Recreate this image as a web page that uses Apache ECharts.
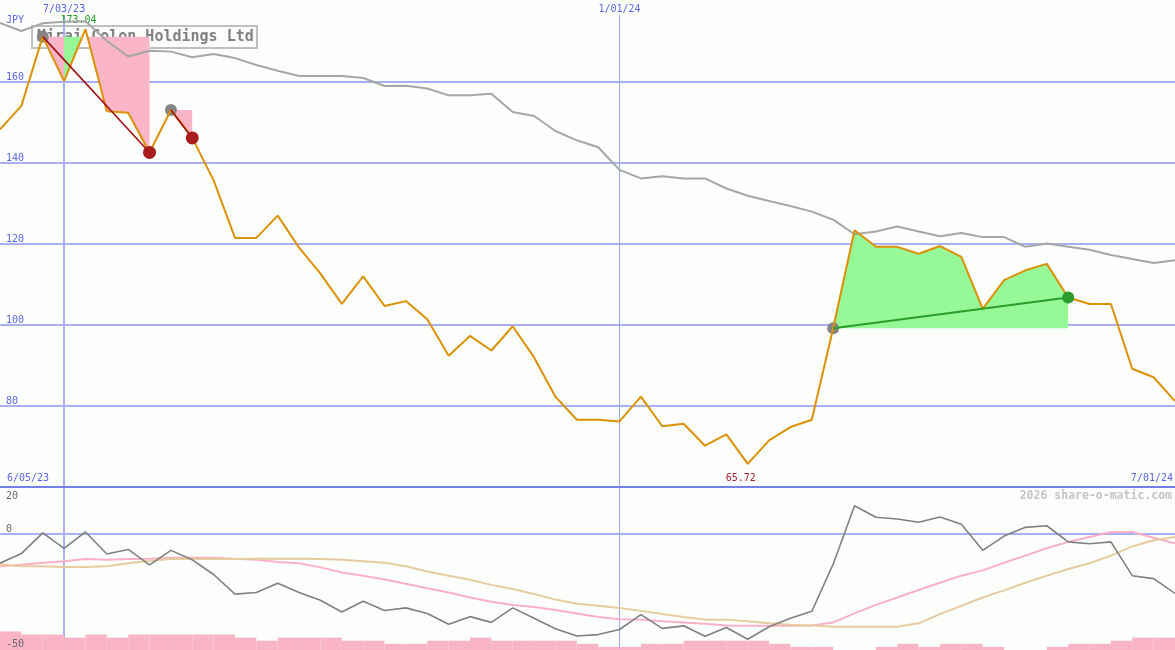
<!DOCTYPE html>
<html><head><meta charset="utf-8">
<script src="https://cdn.jsdelivr.net/npm/echarts@6/dist/echarts.min.js"></script>
<style>html,body{margin:0;padding:0;background:#fcfffc;} #c{width:1175px;height:650px;}</style>
</head><body><div id="c"></div>
<script>
const dates = ['6/12/23','6/19/23','6/26/23','7/03/23','7/10/23','7/17/23','7/24/23','7/31/23','8/07/23','8/14/23','8/21/23','8/28/23','9/04/23','9/11/23','9/18/23','9/25/23','10/02/23','10/09/23','10/16/23','10/23/23','10/30/23','11/06/23','11/13/23','11/20/23','11/27/23','12/04/23','12/11/23','12/18/23','12/25/23','1/01/24','1/08/24','1/15/24','1/22/24','1/29/24','2/05/24','2/12/24','2/19/24','2/26/24','3/04/24','3/11/24','3/18/24','3/25/24','4/01/24','4/08/24','4/15/24','4/22/24','4/29/24','5/06/24','5/13/24','5/20/24','5/27/24','6/03/24','6/10/24','6/17/24','6/24/24','7/01/24'];
const price = [148.3,154.1,171.2,160.2,173.04,152.8,152.4,142.6,153.1,146.2,135.7,121.5,121.5,127.0,119.1,112.7,105.2,112.0,104.7,105.9,101.4,92.4,97.3,93.7,99.7,92.0,82.3,76.6,76.6,76.2,82.3,75.0,75.6,70.2,73.0,65.72,71.5,74.8,76.6,99.2,123.4,119.3,119.3,117.6,119.5,116.8,104.0,111.1,113.5,115.1,106.8,105.2,105.2,89.2,87.1,81.2];
const priceMA = [174.6,172.6,174.5,174.9,175.0,170.2,166.3,167.7,167.5,166.1,166.9,165.9,164.2,162.8,161.5,161.5,161.5,161.0,159.0,159.1,158.4,156.7,156.7,157.1,152.6,151.6,147.9,145.6,143.9,138.3,136.2,136.7,136.2,136.2,133.7,131.9,130.6,129.4,128.0,126.0,122.4,123.1,124.3,123.1,121.9,122.7,121.7,121.7,119.3,120.1,119.3,118.6,117.3,116.3,115.3,116.0];
const momentum = [-12.7,-8.5,0.5,-6.2,0.9,-8.7,-6.7,-13.4,-7.1,-11.2,-17.6,-26.1,-25.4,-21.4,-25.4,-28.8,-33.9,-29.2,-33.2,-32.1,-34.5,-39.2,-35.9,-38.4,-32.1,-36.6,-41.2,-44.3,-43.7,-41.5,-35.0,-41.0,-39.9,-44.4,-40.6,-45.7,-40.3,-36.6,-33.6,-13.1,12.3,7.3,6.5,5.1,7.4,4.2,-7.1,-0.9,2.9,3.6,-3.4,-4.2,-3.4,-18.1,-19.4,-25.8];
const momentumFast = [-14.0,-13.4,-12.5,-11.8,-10.9,-11.2,-10.9,-10.7,-10.3,-10.3,-10.3,-10.7,-11.2,-12.2,-12.7,-14.5,-16.7,-18.1,-19.8,-21.6,-23.6,-25.4,-27.6,-29.4,-30.8,-31.7,-33.0,-34.5,-36.1,-37.0,-37.2,-37.9,-38.4,-39.0,-39.7,-39.9,-39.9,-39.9,-39.7,-38.4,-34.5,-30.8,-27.6,-24.3,-21.2,-18.1,-15.8,-12.5,-9.4,-6.2,-3.4,-1.3,0.9,0.9,-1.6,-4.0];
const momentumSlow = [-13.1,-14.0,-14.0,-14.3,-14.3,-14.0,-12.7,-11.6,-10.9,-10.9,-10.9,-10.9,-10.7,-10.7,-10.7,-10.9,-11.2,-11.8,-12.5,-14.0,-16.3,-18.1,-19.9,-22.1,-23.9,-26.1,-28.5,-30.3,-31.2,-32.1,-33.4,-34.8,-36.1,-37.2,-37.2,-37.9,-38.8,-39.4,-39.7,-40.3,-40.3,-40.3,-40.3,-38.8,-34.8,-31.2,-27.6,-24.5,-21.2,-18.1,-15.2,-12.7,-9.4,-5.4,-2.7,-1.3];
const volumeLevels = [6,5,5,4,5,4,5,5,5,5,5,4,3,4,4,4,3,3,2,2,3,3,4,3,3,3,3,2,1,1,2,2,3,3,3,3,2,1,1,0,0,1,2,1,2,2,1,0,0,1,2,2,3,4,4];
const lowerTicks = [20, 0, -50];
const topDateLabels = ['7/03/23', '1/01/24'];
const rangeLabels = ['6/05/23', '7/01/24'];
const trades = [[2,7],[8,9],[39,50]];
const fills = [[2,3,2,'loss'],[3,4,2,'gain'],[4,7,2,'loss'],[8,9,8,'loss'],[39,50,39,'gain']];
const titleText = 'Mirai Colon Holdings Ltd';
const currency = 'JPY';
const copyright = '2026 share-o-matic.com';

const FONT = 'DejaVu Sans Mono';
const BLUE = '#5a64e6';
const GRID = '#a8b0f2';
const PINK = '#fbb5c8';
const GREEN = '#96f896';
const ZL = 1;

const chart = echarts.init(document.getElementById('c'), null, {renderer: 'canvas'});

const barCats = dates.slice(0, volumeLevels.length);
const tradeOf = e => trades.find(t => t[0] === e);

const series = [];
series.push({
  type: 'line', xAxisIndex: 0, yAxisIndex: 0, data: price, zlevel: ZL, z: 1, silent: true,
  symbol: 'none', lineStyle: {opacity: 0},
  markLine: {
    silent: true, symbol: ['none', 'none'], label: {show: false},
    data: topDateLabels.map((d, k) => [
      {coord: [dates.indexOf(d), 176.5], lineStyle: {color: k === 0 ? GRID : '#9aa4f4', width: k === 0 ? 2 : 1, type: 'solid'}},
      {coord: [dates.indexOf(d), 60]}
    ])
  }
});
series.push({
  type: 'line', xAxisIndex: 1, yAxisIndex: 1, data: momentum, zlevel: ZL, z: 1, silent: true,
  symbol: 'none', lineStyle: {opacity: 0},
  markLine: {
    silent: true, symbol: ['none', 'none'], label: {show: false},
    data: [
      {yAxis: 0, lineStyle: {color: GRID, width: 2, type: 'solid'}}
    ].concat(topDateLabels.map((d, k) => [
      {coord: [dates.indexOf(d), 20], lineStyle: {color: k === 0 ? GRID : '#9aa4f4', width: k === 0 ? 2 : 1, type: 'solid'}},
      {coord: [dates.indexOf(d), -50.4]}
    ]))
  }
});
series.push({
  type: 'custom', xAxisIndex: 0, yAxisIndex: 0, zlevel: ZL, z: 2, silent: true,
  data: fills.map(f => [f[0], f[1], f[2]]),
  encode: {x: 0, y: 2},
  renderItem: function (params, api) {
    const f = fills[params.dataIndex];
    const from = f[0], to = f[1], entry = f[2];
    const level = price[entry];
    const exit = tradeOf(entry)[1];
    const below = price[exit] < level;
    const clip = v => below ? Math.min(v, level) : Math.max(v, level);
    const pts = [api.coord([from, level])];
    for (let i = from; i <= to; i++) {
      pts.push(api.coord([i, clip(price[i])]));
      if (i < to) {
        const a = price[i], b = price[i + 1];
        if ((a - level) * (b - level) < 0) {
          const t = (level - a) / (b - a);
          const p0 = api.coord([i, level]), p1 = api.coord([i + 1, level]);
          pts.push([p0[0] + t * (p1[0] - p0[0]), p0[1]]);
        }
      }
    }
    pts.push(api.coord([to, level]));
    return {type: 'polygon', shape: {points: pts}, style: {fill: f[3] === 'gain' ? GREEN : PINK}};
  }
});
series.push({
  type: 'line', xAxisIndex: 0, yAxisIndex: 0, data: priceMA, zlevel: ZL, z: 3, silent: true,
  symbol: 'none', lineStyle: {color: '#a6a6a6', width: 2}
});
series.push({
  type: 'scatter', xAxisIndex: 0, yAxisIndex: 0, zlevel: ZL, z: 4, silent: true,
  data: trades.map(t => [t[0], price[t[0]]]),
  symbolSize: 12, itemStyle: {color: '#848484', opacity: 1}
});
series.push({
  type: 'line', xAxisIndex: 0, yAxisIndex: 0, data: price, zlevel: ZL, z: 5, silent: true,
  symbol: 'none', lineStyle: {color: '#dc9004', width: 2},
  markPoint: {
    symbol: 'circle', symbolSize: 1, itemStyle: {color: 'rgba(0,0,0,0)'}, silent: true,
    label: {show: true, position: 'inside', fontFamily: FONT, fontSize: 10, formatter: p => Number(p.value).toFixed(2)},
    data: [
      {type: 'max', label: {offset: [-7, -9], color: '#22a022'}},
      {type: 'min', label: {offset: [-7, 15], color: '#a42030'}}
    ]
  }
});
trades.forEach(t => {
  const gain = price[t[1]] > price[t[0]];
  series.push({
    type: 'line', xAxisIndex: 0, yAxisIndex: 0, zlevel: ZL, z: 6, silent: true, symbol: 'none',
    data: [[t[0], price[t[0]]], [t[1], price[t[1]]]],
    lineStyle: {color: gain ? '#2a9e2a' : '#a01010', width: gain ? 2 : 1.6}
  });
});
series.push({
  type: 'scatter', xAxisIndex: 0, yAxisIndex: 0, zlevel: ZL, z: 7, silent: true,
  data: trades.map(t => ({
    value: [t[1], price[t[1]]],
    symbolSize: price[t[1]] > price[t[0]] ? 12 : 13,
    itemStyle: {color: price[t[1]] > price[t[0]] ? '#2c9c2c' : '#a81c1c', opacity: 1}
  }))
});
series.push({
  type: 'bar', xAxisIndex: 2, yAxisIndex: 2, data: volumeLevels, zlevel: ZL, z: 3, silent: true,
  barCategoryGap: '0%', barGap: '0%', itemStyle: {color: '#f9b4c8'}
});
series.push({
  type: 'line', xAxisIndex: 1, yAxisIndex: 1, data: momentumFast, zlevel: ZL, z: 4, silent: true,
  symbol: 'none', lineStyle: {color: '#fbb0c8', width: 2}
});
series.push({
  type: 'line', xAxisIndex: 1, yAxisIndex: 1, data: momentumSlow, zlevel: ZL, z: 5, silent: true,
  symbol: 'none', lineStyle: {color: '#e6cc9e', width: 2}
});
series.push({
  type: 'line', xAxisIndex: 1, yAxisIndex: 1, data: momentum, zlevel: ZL, z: 6, silent: true,
  symbol: 'none', lineStyle: {color: '#808080', width: 1.6}
});

const option = {
  animation: false,
  backgroundColor: '#fcfffc',
  title: {
    text: titleText, left: 32, top: 26, zlevel: 0, z: 1, padding: [3, 4, 2, 5],
    borderColor: '#c0c0c0', borderWidth: 2,
    textStyle: {fontFamily: FONT, fontWeight: 'bold', fontSize: 15, color: '#808080', lineHeight: 17}
  },
  grid: [
    {left: 0, right: 0, top: 1, height: 486},
    {left: 0, right: 0, top: 488, height: 162}
  ],
  xAxis: [
    {gridIndex: 0, type: 'category', data: dates, boundaryGap: false,
     axisLine: {show: true, lineStyle: {color: '#7080e8', width: 2}}, axisTick: {show: false},
     axisLabel: {show: false}, splitLine: {show: false}, zlevel: ZL, z: 8},
    {gridIndex: 1, type: 'category', data: dates, boundaryGap: false, show: false},
    {gridIndex: 1, type: 'category', data: barCats, boundaryGap: true, show: false}
  ],
  yAxis: [
    {gridIndex: 0, type: 'value', min: 60, max: 180, interval: 20,
     axisLine: {show: false}, axisTick: {show: false},
     axisLabel: {inside: true, margin: 6, color: BLUE, fontFamily: FONT, fontSize: 10,
                 verticalAlign: 'bottom', showMinLabel: false, showMaxLabel: false},
     splitLine: {show: true, showMinLine: false, showMaxLine: false, lineStyle: {color: GRID, width: 2}}},
    {gridIndex: 1, type: 'value', min: -50.4, max: 20, show: false, splitLine: {show: false}},
    {gridIndex: 1, type: 'value', min: 0, max: 52.3, show: false, splitLine: {show: false}}
  ],
  series: series
};
chart.setOption(option);

const g = [];
const txt = (text, x, y, color, align, vAlign, size, weight) => g.push({
  type: 'text', x: x, y: y, zlevel: ZL, z: 100, silent: true,
  style: {text: text, fill: color, align: align, verticalAlign: vAlign,
          fontFamily: FONT, fontSize: size || 10, fontWeight: weight || 'normal'}
});
topDateLabels.forEach(d => {
  const x = chart.convertToPixel({xAxisIndex: 0}, d);
  txt(d, x, 9, BLUE, 'center', 'middle');
});
const yBottom = chart.convertToPixel({yAxisIndex: 0}, 60);
const xLeft = chart.convertToPixel({xAxisIndex: 0}, dates[0]);
const xRight = chart.convertToPixel({xAxisIndex: 0}, dates[dates.length - 1]);
txt(rangeLabels[0], xLeft + 7, yBottom - 9, BLUE, 'left', 'middle');
txt(rangeLabels[1], xRight - 2, yBottom - 9, BLUE, 'right', 'middle');
txt(currency, xLeft + 6, 20, BLUE, 'left', 'middle');
txt(copyright, xRight - 3, yBottom + 9, '#c4c4c4', 'right', 'middle', 11.5, 'bold');
lowerTicks.forEach(v => {
  const y = chart.convertToPixel({yAxisIndex: 1}, v);
  if (v === 20) txt(String(v), xLeft + 6, y + 3, '#686868', 'left', 'top');
  else txt(String(v), xLeft + 6, y, '#686868', 'left', 'bottom');
});
chart.setOption({graphic: g});
</script>
</body></html>
